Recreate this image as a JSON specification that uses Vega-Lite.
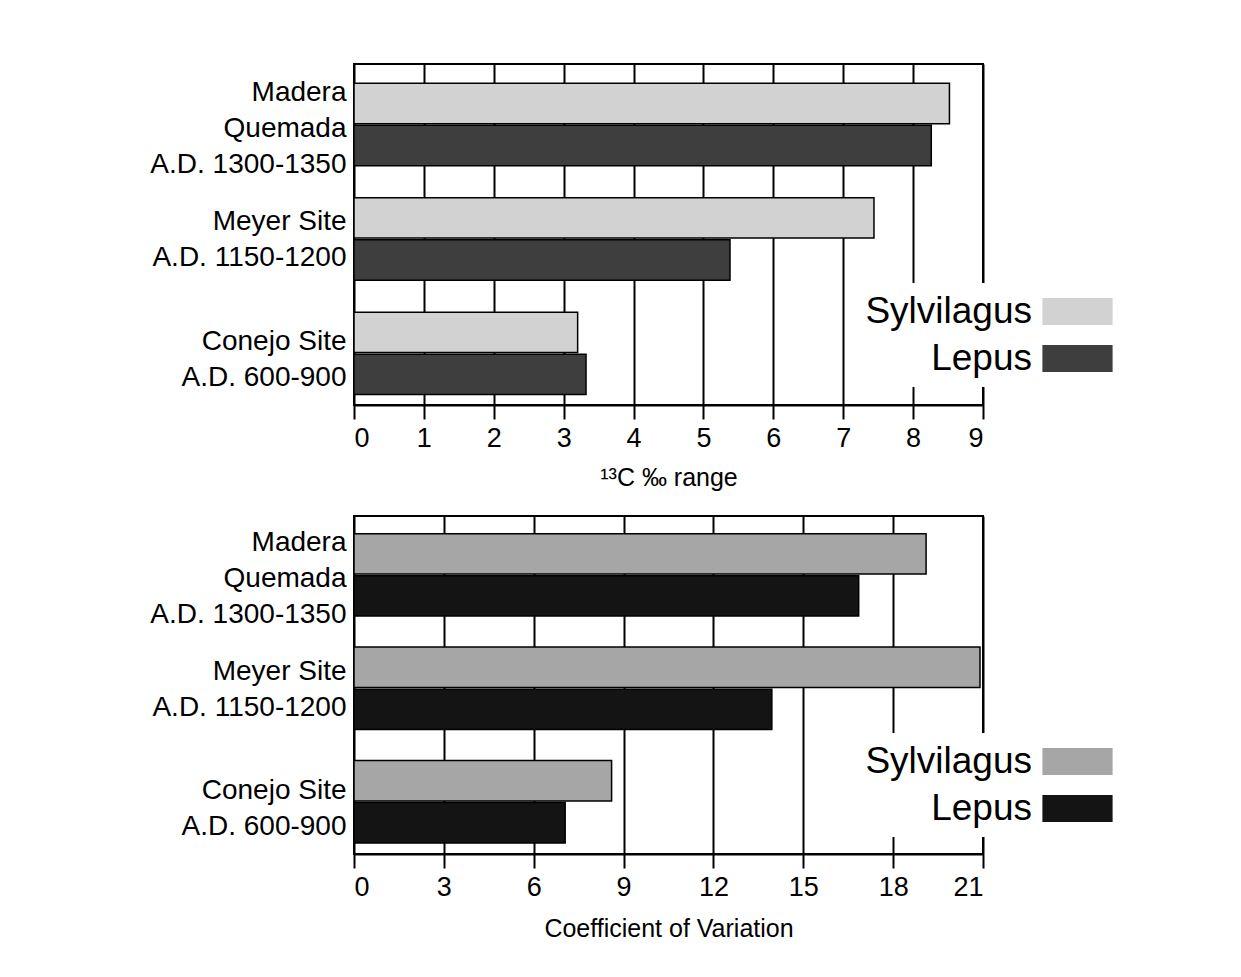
{
  "$schema": "https://vega.github.io/schema/vega-lite/v6.json",
  "background": "white",
  "padding": {"left": 148, "top": 63, "right": 5, "bottom": 5},
  "config": {
    "font": "Liberation Sans",
    "view": {"stroke": "black", "strokeWidth": 2},
    "axis": {"domainColor": "black", "tickColor": "black", "gridColor": "black", "labelColor": "black", "titleColor": "black", "titleFontWeight": "normal", "gridOpacity": 1, "labelLimit": 400},
    "legend": {"labelLimit": 400},
    "concat": {"spacing": 24}
  },
  "datasets": {
    "d": [
      {"panel": "top", "site": "Madera|Quemada|A.D. 1300-1350", "species": "Sylvilagus", "value": 8.52},
      {"panel": "top", "site": "Madera|Quemada|A.D. 1300-1350", "species": "Lepus", "value": 8.26},
      {"panel": "top", "site": "Meyer Site|A.D. 1150-1200", "species": "Sylvilagus", "value": 7.44},
      {"panel": "top", "site": "Meyer Site|A.D. 1150-1200", "species": "Lepus", "value": 5.38},
      {"panel": "top", "site": "Conejo Site|A.D. 600-900", "species": "Sylvilagus", "value": 3.2},
      {"panel": "top", "site": "Conejo Site|A.D. 600-900", "species": "Lepus", "value": 3.32},
      {"panel": "bottom", "site": "Madera|Quemada|A.D. 1300-1350", "species": "Sylvilagus", "value": 19.1},
      {"panel": "bottom", "site": "Madera|Quemada|A.D. 1300-1350", "species": "Lepus", "value": 16.85},
      {"panel": "bottom", "site": "Meyer Site|A.D. 1150-1200", "species": "Sylvilagus", "value": 20.9},
      {"panel": "bottom", "site": "Meyer Site|A.D. 1150-1200", "species": "Lepus", "value": 13.95},
      {"panel": "bottom", "site": "Conejo Site|A.D. 600-900", "species": "Sylvilagus", "value": 8.6},
      {"panel": "bottom", "site": "Conejo Site|A.D. 600-900", "species": "Lepus", "value": 7.05}
    ]
  },
  "resolve": {"scale": {"color": "independent", "x": "independent"}, "legend": {"color": "independent"}},
  "vconcat": [
    {
      "width": 629,
      "height": 341,
      "data": {"name": "d"},
      "transform": [{"filter": "datum.panel == 'top'"}],
      "mark": {"type": "bar", "stroke": "black", "strokeWidth": 1.5},
      "encoding": {
        "y": {
          "field": "site", "type": "nominal",
          "sort": ["Madera|Quemada|A.D. 1300-1350", "Meyer Site|A.D. 1150-1200", "Conejo Site|A.D. 600-900"],
          "scale": {"paddingInner": 0.28, "paddingOuter": 0.13, "align": 0.65},
          "axis": {"title": null, "ticks": false, "domain": false, "labelExpr": "split(datum.label, '|')", "labelFontSize": 28, "labelLineHeight": 36, "labelPadding": 8,
            "labelOffset": {"condition": [{"test": "indexof(datum.value, 'Madera') == 0", "value": -32}, {"test": "indexof(datum.value, 'Conejo') == 0", "value": -11}], "value": -17}}
        },
        "yOffset": {"field": "species", "type": "nominal", "sort": ["Sylvilagus", "Lepus"], "scale": {"paddingInner": 0.04}},
        "x": {
          "field": "value", "type": "quantitative",
          "scale": {"domain": [0, 9]},
          "axis": {"values": [0, 1, 2, 3, 4, 5, 6, 7, 8, 9], "grid": true, "gridWidth": 2, "tickSize": 14, "tickWidth": 2, "domainWidth": 2, "labelFontSize": 27, "labelPadding": 6, "title": "¹³C ‰ range", "titleFontSize": 25, "titlePadding": 14}
        },
        "color": {
          "field": "species", "type": "nominal",
          "scale": {"domain": ["Sylvilagus", "Lepus"], "range": ["#d2d2d2", "#3e3e3e"]},
          "legend": {"title": null, "orient": "none", "legendX": 495, "legendY": 219, "direction": "vertical", "symbolType": "M-2.6,-1H2.6V1H-2.6Z", "symbolSize": 729, "symbolStrokeWidth": 0, "symbolOpacity": 1, "symbolOffset": 200, "labelFontSize": 37, "labelAlign": "right", "labelOffset": -64, "labelColor": "black", "rowPadding": 9, "fillColor": "white", "padding": 10}
        }
      }
    },
    {
      "width": 629,
      "height": 338,
      "data": {"name": "d"},
      "transform": [{"filter": "datum.panel == 'bottom'"}],
      "mark": {"type": "bar", "stroke": "black", "strokeWidth": 1.5},
      "encoding": {
        "y": {
          "field": "site", "type": "nominal",
          "sort": ["Madera|Quemada|A.D. 1300-1350", "Meyer Site|A.D. 1150-1200", "Conejo Site|A.D. 600-900"],
          "scale": {"paddingInner": 0.28, "paddingOuter": 0.13, "align": 0.6},
          "axis": {"title": null, "ticks": false, "domain": false, "labelExpr": "split(datum.label, '|')", "labelFontSize": 28, "labelLineHeight": 36, "labelPadding": 8,
            "labelOffset": {"condition": [{"test": "indexof(datum.value, 'Madera') == 0", "value": -32}, {"test": "indexof(datum.value, 'Conejo') == 0", "value": -10}], "value": -16}}
        },
        "yOffset": {"field": "species", "type": "nominal", "sort": ["Sylvilagus", "Lepus"], "scale": {"paddingInner": 0.06}},
        "x": {
          "field": "value", "type": "quantitative",
          "scale": {"domain": [0, 21]},
          "axis": {"values": [0, 3, 6, 9, 12, 15, 18, 21], "grid": true, "gridWidth": 2, "tickSize": 14, "tickWidth": 2, "domainWidth": 2, "labelFontSize": 27, "labelPadding": 6, "title": "Coefficient of Variation", "titleFontSize": 25, "titlePadding": 16}
        },
        "color": {
          "field": "species", "type": "nominal",
          "scale": {"domain": ["Sylvilagus", "Lepus"], "range": ["#a6a6a6", "#141414"]},
          "legend": {"title": null, "orient": "none", "legendX": 495, "legendY": 217, "direction": "vertical", "symbolType": "M-2.6,-1H2.6V1H-2.6Z", "symbolSize": 729, "symbolStrokeWidth": 0, "symbolOpacity": 1, "symbolOffset": 200, "labelFontSize": 37, "labelAlign": "right", "labelOffset": -64, "labelColor": "black", "rowPadding": 9, "fillColor": "white", "padding": 10}
        }
      }
    }
  ]
}
